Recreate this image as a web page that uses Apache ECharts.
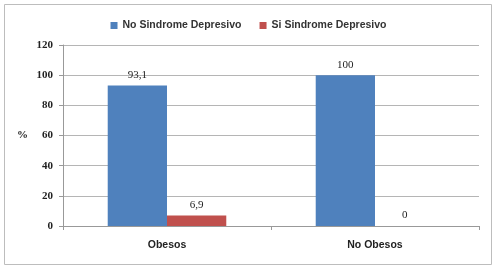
<!DOCTYPE html>
<html><head><meta charset="utf-8">
<script src="https://cdn.jsdelivr.net/npm/echarts@6/dist/echarts.min.js"></script>
<style>html,body{margin:0;padding:0;background:#fff}#c{width:497px;height:270px}</style>
</head><body><div id="c"></div>
<script>
const categories = ['Obesos', 'No Obesos'];
const seriesNames = ['No Sindrome Depresivo', 'Si Sindrome Depresivo'];
const noSindrome = [93.1, 100];
const siSindrome = [6.9, 0];
const yTicks = [0, 20, 40, 60, 80, 100, 120];

const chart = echarts.init(document.getElementById('c'));
const valLabel = {
  show: true, position: 'top', distance: 5,
  fontFamily: 'Liberation Serif', fontSize: 11, color: '#222',
  formatter: p => String(p.value).replace('.', ',')
};
chart.setOption({
  animation: false,
  graphic: [{type: 'rect', shape: {x: 4.5, y: 4.5, width: 487, height: 260},
    style: {fill: 'none', stroke: '#bdbdbd', lineWidth: 1}, z: -1}],
  legend: {
    top: 15, left: 'center', itemWidth: 7, itemHeight: 7, itemGap: 18,
    icon: 'rect',
    textStyle: {fontFamily: 'Liberation Sans', fontWeight: 'bold', fontSize: 10.5, color: '#333'},
    data: seriesNames
  },
  grid: {left: 63, right: 18, top: 45, bottom: 44},
  xAxis: {
    type: 'category', data: categories,
    axisLine: {lineStyle: {color: '#999'}},
    axisTick: {show: true, length: 4, lineStyle: {color: '#999'}},
    axisLabel: {margin: 14, fontFamily: 'Liberation Sans', fontWeight: 'bold', fontSize: 10.5, color: '#222'}
  },
  yAxis: {
    type: 'value', min: yTicks[0], max: yTicks[yTicks.length - 1], interval: 20,
    name: '%', nameLocation: 'middle', nameGap: 35, nameRotate: 0,
    nameTextStyle: {fontFamily: 'Liberation Serif', fontWeight: 'bold', fontSize: 11, color: '#222'},
    axisLine: {show: true, lineStyle: {color: '#999'}},
    axisTick: {show: true, length: 4, lineStyle: {color: '#999'}},
    axisLabel: {margin: 10, fontFamily: 'Liberation Serif', fontWeight: 'bold', fontSize: 11, color: '#222'},
    splitLine: {lineStyle: {color: '#b5b5b5'}}
  },
  series: [
    {name: seriesNames[0], type: 'bar', data: noSindrome, barGap: '0%', barCategoryGap: '43%',
     itemStyle: {color: '#4F81BD'}, label: valLabel},
    {name: seriesNames[1], type: 'bar', data: siSindrome,
     itemStyle: {color: '#C0504D'}, label: valLabel}
  ]
});
</script></body></html>
